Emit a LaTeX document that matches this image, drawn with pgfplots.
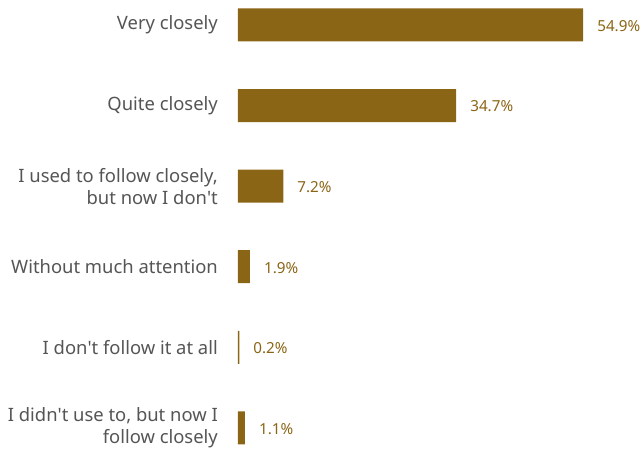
\documentclass[border=0pt]{standalone}
\usepackage{pgfplots}
\pgfplotsset{compat=1.18}
\usepackage{fontspec}
\setmainfont{Noto Sans}
\definecolor{barc}{RGB}{139,101,22}
\definecolor{valc}{RGB}{139,101,22}
\definecolor{labc}{RGB}{85,85,85}
\begin{document}
\begin{tikzpicture}
\begin{axis}[
  xbar,
  scale only axis,
  width=403bp, height=452bp,
  xmin=0, xmax=64.1,
  ymin=-0.31, ymax=5.30,
  y dir=reverse,
  axis line style={draw=none},
  major tick length=0pt,
  xtick=\empty,
  ytick={0,1,2,3,4,5},
  yticklabels={Very closely, Quite closely, {I used to follow closely,\\but now I don\textquotesingle t}, Without much attention, I don\textquotesingle t follow it at all, {I didn\textquotesingle t use to, but now I\\follow closely}},
  yticklabel style={font=\fontsize{18.4bp}{22bp}\selectfont, text=labc, align=right, inner sep=0pt, xshift=-20bp},
  bar width=33bp,
  point meta=x,
  /pgf/number format/assume math mode=true,
  nodes near coords={\pgfmathprintnumber[fixed,precision=1,fixed zerofill,assume math mode=true]{\pgfplotspointmeta}\%},
  nodes near coords style={anchor=west, text=valc, font=\fontsize{15.2bp}{18bp}\selectfont, inner sep=0pt, xshift=14bp, yshift=-1bp},
  clip=false,
]
\addplot[fill=barc, draw=none] coordinates {(54.9,0) (34.7,1) (7.2,2) (1.9,3) (0.2,4) (1.1,5)};
\end{axis}
\pgfresetboundingbox
\path (current axis.south west) ++(-238bp,0) rectangle (current axis.north east);
\end{tikzpicture}
\end{document}
